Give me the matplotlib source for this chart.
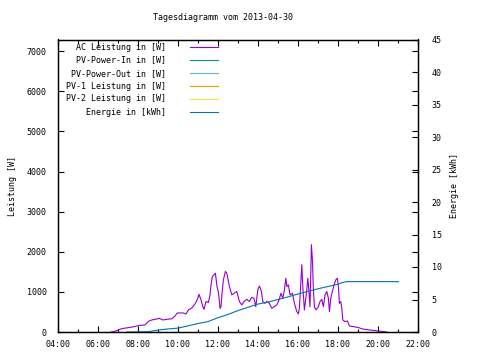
import matplotlib
matplotlib.use("Agg")
import matplotlib.pyplot as plt
from matplotlib.ticker import MultipleLocator, FuncFormatter

# AC Leistung [W] over the day (hours)
ac_time = [6.65, 6.85, 7.10, 7.27, 7.60, 7.77, 8.07, 8.35, 8.52, 8.69, 8.85, 9.07,
           9.24, 9.44, 9.69, 9.85, 9.97, 10.27, 10.40, 10.52, 10.69, 10.85, 10.97,
           11.05, 11.14, 11.24, 11.30, 11.40, 11.52, 11.60, 11.65, 11.72, 11.80,
           11.87, 11.90, 11.95, 12.03, 12.10, 12.15, 12.20, 12.27, 12.37, 12.42,
           12.47, 12.57, 12.69, 12.80, 12.94, 13.07, 13.19, 13.30, 13.44, 13.57,
           13.69, 13.80, 13.89, 13.99, 14.07, 14.17, 14.24, 14.35, 14.44, 14.57,
           14.69, 14.80, 14.94, 15.05, 15.15, 15.24, 15.32, 15.39, 15.44, 15.52,
           15.60, 15.72, 15.82, 15.94, 16.02, 16.07, 16.14, 16.19, 16.24, 16.32,
           16.39, 16.44, 16.49, 16.54, 16.60, 16.64, 16.67, 16.72, 16.77, 16.82,
           16.90, 17.02, 17.10, 17.19, 17.27, 17.35, 17.44, 17.52, 17.57, 17.64,
           17.72, 17.80, 17.89, 17.97, 18.02, 18.07, 18.14, 18.19, 18.24, 18.35,
           18.47, 18.57, 18.77, 19.02, 19.27, 19.77, 20.10, 20.44]
ac_power = [0, 20, 70, 90, 115, 130, 165, 175, 265, 300, 315, 340,
            300, 315, 330, 400, 475, 475, 450, 550, 600, 700, 815,
            940, 815, 630, 565, 760, 735, 925, 1175, 1385, 1425,
            1465, 1340, 1135, 965, 590, 630, 965, 1300, 1510, 1480,
            1400, 1135, 925, 965, 1010, 760, 675, 760, 815, 760,
            865, 840, 630, 1050, 1150, 1010, 760, 715, 760, 715,
            590, 630, 675, 800, 965, 840, 1050, 1340, 1135, 1175,
            925, 965, 715, 510, 450, 590, 1215, 1675, 1135, 550,
            840, 1050, 1340, 1050, 630, 1465, 2175, 1800, 1050, 630,
            550, 630, 760, 815, 630, 925, 1010, 840, 510, 840,
            1010, 1175, 1300, 1340, 1135, 715, 760, 590, 300, 260,
            275, 150, 135, 110, 70, 40, 20, 0]

# Energie [kWh]
en_time = [7.44, 8.52, 9.00, 9.44, 10.00, 10.44, 11.00, 11.50, 12.00, 12.50, 13.00,
           13.50, 14.00, 14.50, 15.00, 15.50, 16.00, 16.50, 17.00, 17.50, 18.00,
           18.20, 18.45, 21.02]
en_kwh = [0, 0.05, 0.3, 0.45, 0.6, 0.9, 1.3, 1.6, 2.2, 2.7, 3.3,
          3.8, 4.3, 4.6, 5.0, 5.4, 5.85, 6.25, 6.65, 7.0, 7.35,
          7.6, 7.75, 7.75]

# series without data on this day
pv_in = []
pv_out = []
pv1 = []
pv2 = []

labels = ["AC Leistung in [W]", "PV-Power-In in [W]", "PV-Power-Out in [W]",
          "PV-1 Leistung in [W]", "PV-2 Leistung in [W]", "Energie in [kWh]"]
colors = ["#9400D3", "#009E73", "#56B4E9", "#E69F00", "#F0E442", "#0072B2"]

plt.rcParams["font.family"] = "DejaVu Sans Mono"
plt.rcParams["font.size"] = 6

fig = plt.figure(figsize=(4.8, 3.6), dpi=100)
ax = fig.add_axes([58 / 480, 1 - 332 / 360, 360 / 480, 292.5 / 360])
ax2 = ax.twinx()

lw = 0.8
ax.plot(ac_time, ac_power, color=colors[0], lw=lw)
ax.plot(pv_in, pv_in, color=colors[1], lw=lw)
ax.plot(pv_out, pv_out, color=colors[2], lw=lw)
ax.plot(pv1, pv1, color=colors[3], lw=lw)
ax.plot(pv2, pv2, color=colors[4], lw=lw)
ax2.plot(en_time, en_kwh, color=colors[5], lw=lw)

ax.set_xlim(4, 22)
ax.set_ylim(0, 7290)
ax2.set_ylim(0, 45)

ax.xaxis.set_major_locator(MultipleLocator(2))
ax.xaxis.set_minor_locator(MultipleLocator(1))
ax.xaxis.set_major_formatter(FuncFormatter(lambda v, p: "%02d:00" % int(round(v))))
ax.yaxis.set_major_locator(MultipleLocator(1000))
ax2.yaxis.set_major_locator(MultipleLocator(5))

ax.tick_params(which="both", direction="in", top=True, right=True, width=0.8)
ax.tick_params(which="major", length=4)
ax.tick_params(which="minor", length=2.5)
ax.tick_params(axis="y", pad=8)
ax.tick_params(axis="x", pad=6)
ax2.tick_params(direction="in", length=4, width=0.8, pad=10, left=False)

for a in (ax, ax2):
    for s in a.spines.values():
        s.set_linewidth(0.9)

ax.set_ylabel("Leistung [W]", labelpad=7)
ax2.set_ylabel("Energie [kWh]", labelpad=6)

fig.text(223 / 480, 1 - 18 / 360, "Tagesdiagramm vom 2013-04-30", ha="center", va="center")

# gnuplot style key: right aligned text, line sample to the right
rows = [0.974, 0.930, 0.885, 0.841, 0.797, 0.752]
for lab, col, yy in zip(labels, colors, rows):
    ax.text(0.30, yy, lab, ha="right", va="center", transform=ax.transAxes)
    ax.plot([0.367, 0.444], [yy, yy], color=col, lw=lw, transform=ax.transAxes)

fig.savefig("out.png", dpi=100)
